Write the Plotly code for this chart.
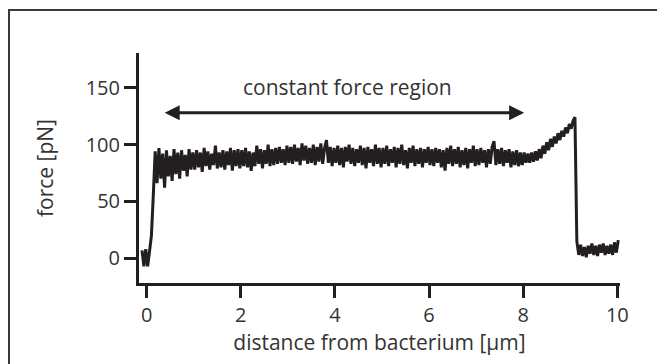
import plotly.graph_objects as go

# ---- data ----
start_um = -0.10          # first sample position (µm)
step_um = 0.04            # sampling interval (µm)
force_pN = [
    # baseline and attachment (-0.10 .. 0.14)
    7, -7, 8, -7, 6, 20, 55,
    # 0.18 .. 0.98
    94, 66, 97, 70, 92, 62, 95, 72, 90, 68, 96, 74, 93, 70, 95, 77, 91, 72, 96, 78, 93,
    # 1.02 .. 1.98
    78, 95, 80, 93, 76, 97, 81, 94, 78, 92, 82, 99, 79, 93, 80, 95, 78, 94, 82, 97, 77, 95, 81, 96, 79,
    # 2.02 .. 2.98
    95, 81, 97, 80, 94, 77, 93, 81, 99, 83, 96, 79, 95, 83, 100, 81, 96, 82, 97, 83, 98, 84, 96, 82, 99,
    # 3.02 .. 3.98
    84, 98, 83, 100, 85, 97, 82, 101, 86, 99, 83, 97, 84, 100, 82, 98, 85, 101, 83, 97, 104, 84, 98, 81, 97,
    # 4.02 .. 4.98
    84, 99, 82, 97, 80, 98, 85, 100, 83, 97, 81, 96, 84, 99, 82, 97, 79, 98, 84, 96, 81, 100, 83, 97, 80,
    # 5.02 .. 5.98
    97, 83, 99, 81, 96, 84, 98, 80, 97, 83, 100, 82, 95, 79, 97, 84, 99, 81, 96, 83, 97, 80, 96, 84, 98,
    # 6.02 .. 6.98
    82, 96, 81, 97, 84, 96, 80, 95, 77, 97, 83, 99, 81, 96, 83, 98, 80, 95, 82, 97, 79, 96, 84, 99, 81,
    # 7.02 .. 7.98
    96, 82, 97, 84, 95, 80, 96, 83, 98, 103, 82, 96, 83, 97, 81, 95, 84, 96, 80, 94, 82, 95, 81, 93, 82,
    # 8.02 .. 9.10 (rise before rupture)
    93, 84, 92, 84, 93, 85, 94, 86, 96, 88, 99, 92, 102, 95, 105, 98, 107, 101, 110, 104, 112, 107, 115,
    110, 118, 114, 121, 124,
    # after rupture 9.14 .. 10.02
    15, 3, 12, 2, 10, 1, 11, 4, 13, 3, 11, 2, 12, 5, 13, 3, 11, 4, 12, 3, 14, 5, 16,
]
distance_um = [round(start_um + step_um * i, 4) for i in range(len(force_pN))]

x_ticks = [0, 2, 4, 6, 8, 10]
y_ticks = [0, 50, 100, 150]
x_title = "distance from bacterium [µm]"
y_title = "force [pN]"
region_label = "constant force region"
region_start_um, region_end_um, region_level_pN = 0.35, 8.02, 128
label_x_um, label_y_pN = 4.26, 151

# ---- styling ----
INK = "#231f20"
TXT = "#333333"
FONT = "Open Sans"
W, H = 657, 364
L, R, T, B = 139, 37, 53, 81

fig = go.Figure()
fig.add_trace(go.Scatter(
    x=distance_um, y=force_pN, mode="lines",
    line=dict(color=INK, width=3.0), hoverinfo="skip", showlegend=False,
))

fig.add_annotation(
    x=region_end_um, y=region_level_pN, ax=region_start_um, ay=region_level_pN,
    xref="x", yref="y", axref="x", ayref="y", text="", showarrow=True,
    arrowhead=2, arrowside="end+start", arrowwidth=3, arrowsize=1.0, arrowcolor=INK,
)
fig.add_annotation(
    x=label_x_um, y=label_y_pN, xref="x", yref="y", text=region_label,
    showarrow=False, font=dict(family=FONT, size=21, color=TXT),
)

pw = W - L - R
ph = H - T - B
# outer frame (image border)
fig.add_shape(
    type="rect", xref="paper", yref="paper",
    x0=(9 - L) / pw, x1=(W + 20 - L) / pw,
    y0=1 - (H + 20 - T) / ph, y1=1 - (10 - T) / ph,
    line=dict(color="#3a3a3a", width=2), fillcolor="rgba(0,0,0,0)", layer="below",
)

axis_common = dict(
    showgrid=False, zeroline=False, showline=True, linecolor=INK, linewidth=3,
    ticks="outside", ticklen=12, tickwidth=3, tickcolor=INK,
    tickfont=dict(family=FONT, size=20, color=TXT),
)
fig.update_xaxes(range=[-0.1636, 10.057], tickvals=x_ticks,
                 title=dict(text=x_title, font=dict(family=FONT, size=21, color=TXT), standoff=7),
                 **axis_common)
fig.update_yaxes(range=[-21.7, 180.5], tickvals=y_ticks,
                 title=dict(text=y_title, font=dict(family=FONT, size=21, color=TXT), standoff=27),
                 **axis_common)

fig.update_layout(
    width=W, height=H, margin=dict(l=L, r=R, t=T, b=B, autoexpand=False),
    paper_bgcolor="white", plot_bgcolor="white",
)
fig.write_html("out.html", config={"displayModeBar": False},
               post_script="document.body.style.margin='0';")
